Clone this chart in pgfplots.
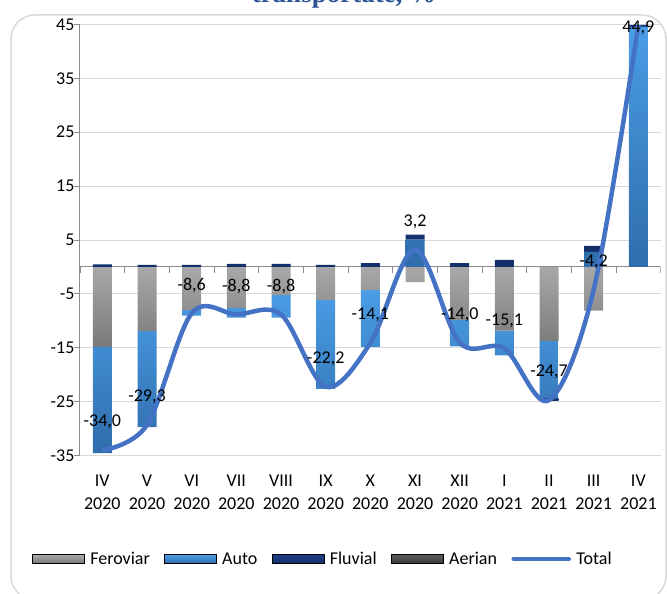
\documentclass[border=0pt]{standalone}
\usepackage{fontspec}
\setmainfont{Carlito}
\newfontfamily\titlefont{Liberation Serif}
\usepackage{pgfplots}
\usepackage{pgfplotstable}
\pgfplotsset{compat=1.18}

\definecolor{ferTop}{HTML}{A8A8A8}
\definecolor{ferBot}{HTML}{7A7A7A}
\definecolor{autoTop}{HTML}{4A9DE6}
\definecolor{autoBot}{HTML}{2F6DAA}
\definecolor{fluvTop}{HTML}{1F3F86}
\definecolor{fluvBot}{HTML}{14306A}
\definecolor{aerTop}{HTML}{5C5C5C}
\definecolor{aerBot}{HTML}{3A3A3A}
\definecolor{totline}{HTML}{4472C4}
\definecolor{gridc}{HTML}{D9D9D9}
\definecolor{axisc}{HTML}{8C8C8C}
\definecolor{titlec}{HTML}{2F5496}

% Feroviar, Auto, Fluvial, Aerian, Total (%)
\pgfplotstableread{
x   fer    auto   fluv  aer  total lab
0   -14.8  -19.7  0.5   0    -34.0 -34,0
1   -11.9  -17.8  0.4   0    -29.3 -29,3
2   -8.0   -1.0   0.4   0    -8.6  -8,6
3   -7.6   -1.8   0.6   0    -8.8  -8,8
4   -5.2   -4.2   0.6   0    -8.8  -8,8
5   -6.1   -16.5  0.4   0    -22.2 -22,2
6   -4.3   -10.5  0.7   0    -14.1 -14,1
7   -2.8   5.1    0.9   0    3.2   3,2
8   -9.8   -4.9   0.7   0    -14.0 -14,0
9   -11.8  -4.6   1.3   0    -15.1 -15,1
10  -13.7  -10.6  -0.4  0    -24.7 -24,7
11  -8.1   2.8    1.1   0    -4.2  -4,2
12  0.0    44.5   0.4   0    44.9  44,9
}\data

\pgfplotsset{
  base/.style={scale only axis, width=580.7pt, height=431.3pt,
    at={(80pt,138.3pt)}, anchor=south west,
    xmin=-0.5, xmax=12.5, ymin=-35, ymax=45},
  fer/.style={draw=none, top color=ferTop, bottom color=ferBot},
  auto/.style={draw=none, top color=autoTop, bottom color=autoBot},
  fluv/.style={draw=none, top color=fluvTop, bottom color=fluvBot},
  aer/.style={draw=none, top color=aerTop, bottom color=aerBot},
}

\begin{document}
\begin{tikzpicture}
\useasboundingbox (0,0) rectangle (667pt,594pt);
\draw[gridc, line width=1.5pt, rounded corners=24pt] (11pt,-6pt) rectangle (666pt,579pt);
\node[font=\titlefont\bfseries\fontsize{27}{30}\selectfont, text=titlec, anchor=base] at (344pt,591pt) {transportate, \%};

% negative parts of the stacks, grid and axes
\begin{axis}[base, ybar stacked, bar width=19pt,
  axis lines*=left, x axis line style={draw=none},
  y axis line style={axisc, line width=1pt},
  ytick={-35,-25,...,45}, tick align=outside, major tick length=6pt,
  ytick style={axisc, line width=1pt}, xtick style={draw=none},
  xtick={0,...,12},
  xticklabels={{IV\\2020},{V\\2020},{VI\\2020},{VII\\2020},{VIII\\2020},{IX\\2020},{X\\2020},{XI\\2020},{XII\\2020},{I\\2021},{II\\2021},{III\\2021},{IV\\2021}},
  xticklabel style={align=center, yshift=-10pt, font=\fontsize{18}{22.7}\selectfont},
  yticklabel style={xshift=4pt, font=\fontsize{18}{20}\selectfont},
  /pgf/number format/assume math mode=true,
  ymajorgrids, grid style={gridc, line width=1pt},
]
\addplot[fer]  table[x=x, y expr={min(\thisrow{fer},0)}] {\data};
\addplot[auto] table[x=x, y expr={min(\thisrow{auto},0)}] {\data};
\addplot[fluv] table[x=x, y expr={min(\thisrow{fluv},0)}] {\data};
\addplot[aer]  table[x=x, y expr={min(\thisrow{aer},0)}] {\data};
\end{axis}

% positive parts of the stacks, zero line
\begin{axis}[base, ybar stacked, bar width=19pt, hide axis]
\addplot[fer]  table[x=x, y expr={max(\thisrow{fer},0)}] {\data};
\addplot[auto] table[x=x, y expr={max(\thisrow{auto},0)}] {\data};
\addplot[fluv] table[x=x, y expr={max(\thisrow{fluv},0)}] {\data};
\addplot[aer]  table[x=x, y expr={max(\thisrow{aer},0)}] {\data};
\draw[axisc, line width=1pt] (axis cs:-0.5,0) -- (axis cs:12.5,0);
\pgfplotsinvokeforeach{0,...,13}{\draw[axisc, line width=1pt] (axis cs:#1-0.5,0) -- ++(0pt,-6pt);}
\end{axis}

% total line, labels, legend
\begin{axis}[base, hide axis,
  legend style={at={(0.419,-0.2395)}, anchor=center, draw=none, fill=none,
    legend columns=5, font=\fontsize{18}{20}\selectfont,
    nodes={inner sep=2.5pt},
    /tikz/every odd column/.append style={column sep=3pt},
    /tikz/every even column/.append style={column sep=12pt}},
  legend entries={Feroviar,Auto,Fluvial,Aerian,Total},
]
\addlegendimage{legend image code/.code={\path[top color=ferTop,bottom color=ferBot] (0pt,-4.5pt) rectangle (52pt,4.5pt);}}
\addlegendimage{legend image code/.code={\path[top color=autoTop,bottom color=autoBot] (0pt,-4.5pt) rectangle (52pt,4.5pt);}}
\addlegendimage{legend image code/.code={\path[top color=fluvTop,bottom color=fluvBot] (0pt,-4.5pt) rectangle (52pt,4.5pt);}}
\addlegendimage{legend image code/.code={\path[top color=aerTop,bottom color=aerBot] (0pt,-4.5pt) rectangle (52pt,4.5pt);}}
\addplot[totline, line width=4.5pt, smooth, tension=0.55,
  legend image code/.code={\draw[totline, line width=4.5pt, line cap=round] (0pt,0pt) -- (55pt,0pt);}]
  table[x=x, y=total] {\data};
\addplot[draw=none, nodes near coords, point meta=explicit symbolic,
  nodes near coords align={center},
  every node near coord/.style={anchor=center, yshift=28pt, text=black, font=\fontsize{18}{20}\selectfont},
  skip coords between index={12}{13}]
  table[x=x, y=total, meta=lab] {\data};
\addplot[draw=none, nodes near coords, point meta=explicit symbolic,
  nodes near coords align={center},
  every node near coord/.style={anchor=center, yshift=-3pt, text=black, font=\fontsize{18}{20}\selectfont},
  skip coords between index={0}{12}]
  table[x=x, y=total, meta=lab] {\data};
\end{axis}
\end{tikzpicture}
\end{document}
